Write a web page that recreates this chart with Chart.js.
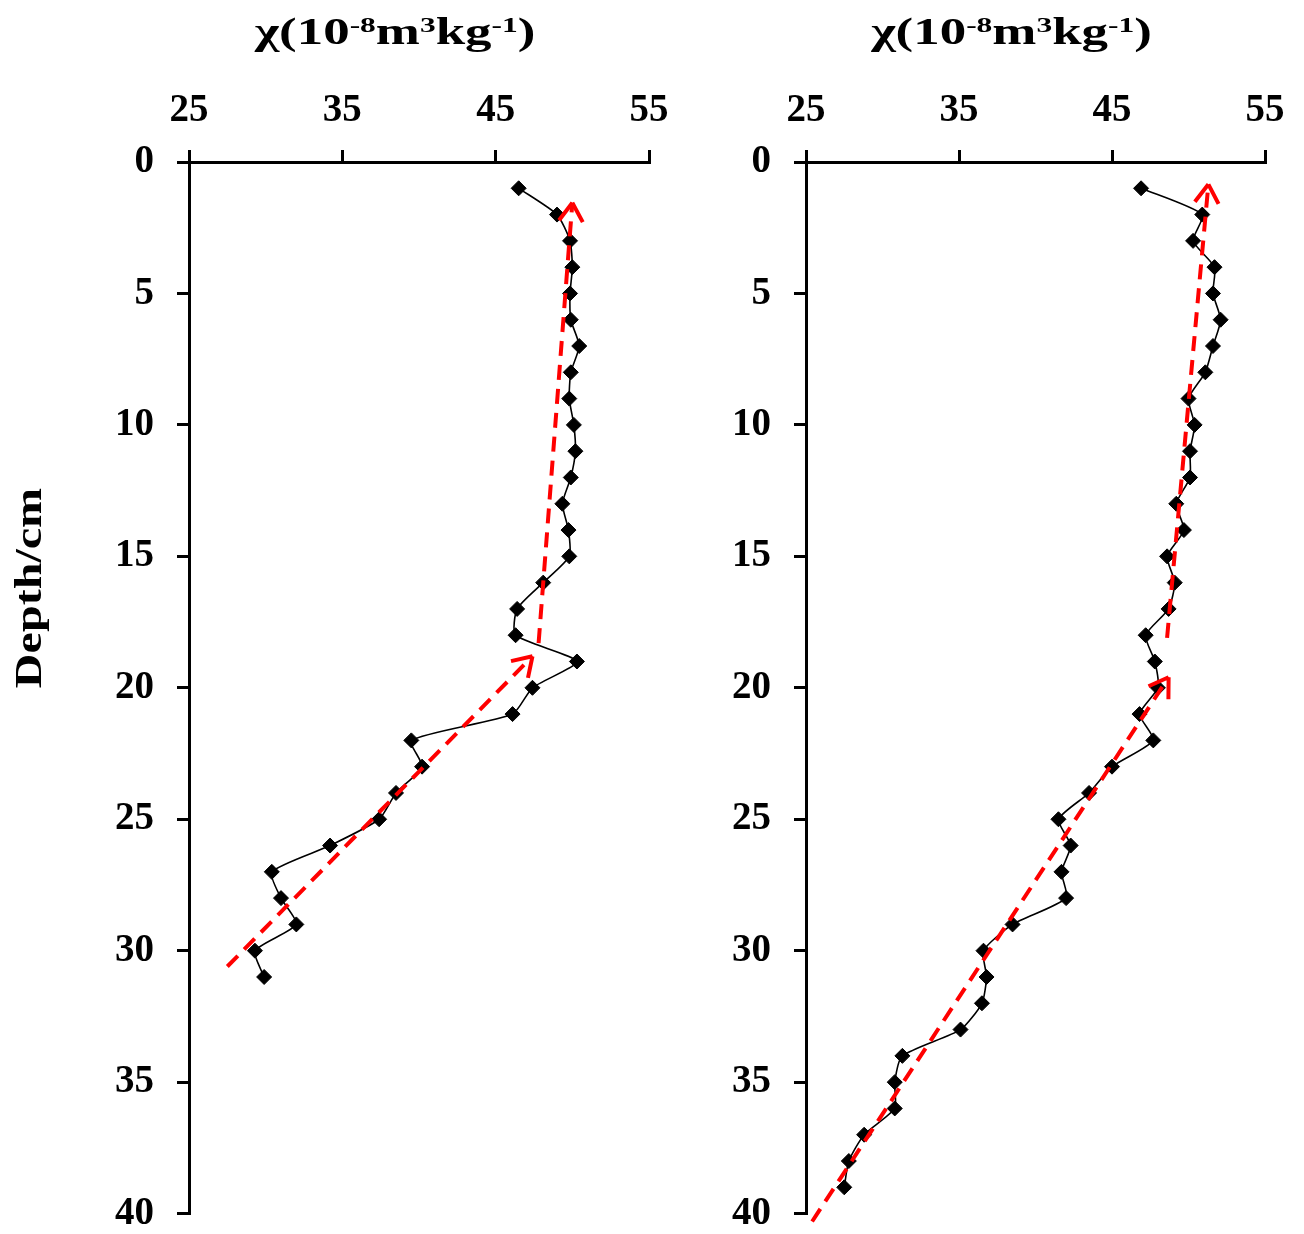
<!DOCTYPE html>
<html>
<head>
<meta charset="utf-8">
<script src="https://cdn.jsdelivr.net/npm/chart.js@4.4.1/dist/chart.umd.min.js"></script>
<style>
  html, body { margin: 0; padding: 0; background: #fff; overflow: hidden; }
  #wrap { position: relative; width: 1304px; height: 1234px; overflow: hidden; }
  canvas { position: absolute; top: 0; }
</style>
</head>
<body>
<div id="wrap">
  <canvas id="leftChart" width="700" height="1260" style="left:0"></canvas>
  <canvas id="rightChart" width="664" height="1260" style="left:640px"></canvas>
</div>
<script>
// sample depths (cm) and susceptibility, left core
const depthA = [1, 2, 3, 4, 5, 6, 7, 8, 9, 10, 11, 12, 13, 14, 15, 16, 17, 18, 19, 20,
  21, 22, 23, 24, 25, 26, 27, 28, 29, 30, 31];
const chiA = [46.5, 49.0, 49.85, 50.0, 49.85, 49.9, 50.45, 49.9, 49.8, 50.1, 50.2, 49.9, 49.35, 49.75, 49.8,
  48.1, 46.4, 46.3, 50.3, 47.4, 46.1, 39.5, 40.2, 38.5, 37.4, 34.2, 30.4, 31.0, 32.0, 29.3, 29.9];

// right core
const depthB = [1, 2, 3, 4, 5, 6, 7, 8, 9, 10, 11, 12, 13, 14, 15, 16, 17, 18, 19, 20,
  21, 22, 23, 24, 25, 26, 27, 28, 29, 30, 31, 32, 33, 34, 35, 36, 37, 38, 39];
const chiB = [46.9, 50.9, 50.3, 51.7, 51.6, 52.1, 51.6, 51.1, 50.0, 50.4, 50.1, 50.1, 49.2, 49.7, 48.6,
  49.1, 48.7, 47.2, 47.8, 48.0, 46.8, 47.7, 45.0, 43.5, 41.5, 42.3, 41.7, 42.0, 38.5, 36.6,
  36.8, 36.5, 35.1, 31.3, 30.8, 30.8, 28.8, 27.8, 27.5];

// red trend arrows (start -> tip)
const trendA1Chi = [27.5, 47.4], trendA1Depth = [30.6, 18.8];
const trendA2Chi = [47.8, 50.0], trendA2Depth = [18.3, 1.55];
const trendB1Chi = [25.4, 48.7], trendB1Depth = [40.3, 19.6];
const trendB2Chi = [48.6, 51.3], trendB2Depth = [18.1, 0.85];

const xTicks = [25, 35, 45, 55];
const yTicks = [0, 5, 10, 15, 20, 25, 30, 35, 40];

const SERIF = '"Liberation Serif", "Times New Roman", serif';
const toPts = (xs, ys) => xs.map((v, i) => ({ x: v, y: ys[i] }));

// chi(10^-8 m^3 kg^-1) title with superscripts, plus the depth label
const titleParts = [['χ(10', 0], ['-8', 1], ['m', 0], ['3', 1], ['kg', 0], ['-1', 1], [')', 0]];
const axisTitles = {
  id: 'axisTitles',
  afterDraw(chart, args, opts) {
    const ctx = chart.ctx, area = chart.chartArea;
    const big = 'bold 37px ' + SERIF, small = 'bold 22px ' + SERIF;
    ctx.save();
    ctx.fillStyle = '#000';
    let w = 0;
    titleParts.forEach(([t, sup]) => { ctx.font = sup ? small : big; w += ctx.measureText(t).width; });
    const stretch = 1.43;
    ctx.translate((area.left + area.right) / 2 - 24 - w * stretch / 2, 44);
    ctx.scale(stretch, 1);
    let x = 0;
    titleParts.forEach(([t, sup]) => {
      ctx.font = sup ? small : big;
      ctx.fillText(t, x, sup ? -12 : 0);
      x += ctx.measureText(t).width;
    });
    ctx.restore();
    if (opts.depthLabel) {
      ctx.save();
      ctx.fillStyle = '#000';
      ctx.translate(31, 588);
      ctx.rotate(-Math.PI / 2);
      ctx.scale(1.3, 1);
      ctx.font = big;
      ctx.textAlign = 'center';
      ctx.textBaseline = 'middle';
      ctx.fillText('Depth/cm', 0, 0);
      ctx.restore();
    }
  }
};

// open arrowhead at the last point of each trend dataset
const arrowHeads = {
  id: 'arrowHeads',
  afterDatasetsDraw(chart) {
    const ctx = chart.ctx;
    chart.data.datasets.forEach((ds, i) => {
      if (!ds.arrow) return;
      const pts = chart.getDatasetMeta(i).data;
      const a = pts[pts.length - 2], b = pts[pts.length - 1];
      const ang = Math.atan2(b.y - a.y, b.x - a.x);
      ctx.save();
      ctx.strokeStyle = '#FF0000';
      ctx.lineWidth = 4;
      ctx.beginPath();
      [Math.PI / 5.5, -Math.PI / 5.5].forEach(d => {
        ctx.moveTo(b.x, b.y);
        ctx.lineTo(b.x - 22 * Math.cos(ang + d), b.y - 22 * Math.sin(ang + d));
      });
      ctx.stroke();
      ctx.restore();
    });
  }
};

function trend(xs, ys) {
  return {
    data: toPts(xs, ys), arrow: true, order: 0, showLine: true, tension: 0,
    borderColor: '#FF0000', borderWidth: 4, borderDash: [15, 9], pointRadius: 0, clip: false
  };
}

function makeChart(id, depth, chi, trends, yWidth, padRight, depthLabel) {
  const tickFont = { family: SERIF, size: 39, weight: 'bold' };
  const axisGrid = { drawOnChartArea: false, drawTicks: true, tickLength: 12, color: '#000', lineWidth: 3 };
  return new Chart(document.getElementById(id), {
    type: 'scatter',
    data: {
      datasets: [
        ...trends,
        {
          data: toPts(chi, depth), order: 1, showLine: true, tension: 0.2,
          borderColor: '#000', borderWidth: 1.6,
          pointStyle: 'rectRot', pointRadius: 7.5, pointBackgroundColor: '#000', pointBorderColor: '#000', pointBorderWidth: 1
        }
      ]
    },
    options: {
      responsive: false, animation: false, devicePixelRatio: 1,
      layout: { padding: { left: 0, top: 0, right: padRight, bottom: 1260 - 1216 } },
      plugins: { legend: { display: false }, tooltip: { enabled: false }, axisTitles: { depthLabel } },
      scales: {
        x: {
          type: 'linear', position: 'top', min: 25, max: 55,
          afterBuildTicks: s => { s.ticks = xTicks.map(v => ({ value: v })); },
          afterFit: s => { s.height = 162; },
          ticks: { font: tickFont, color: '#000', padding: 16, maxRotation: 0 },
          grid: axisGrid,
          border: { display: true, color: '#000', width: 3 }
        },
        y: {
          type: 'linear', reverse: true, min: 0, max: 40,
          afterBuildTicks: s => { s.ticks = yTicks.map(v => ({ value: v })); },
          afterFit: s => { s.width = yWidth; },
          ticks: { font: tickFont, color: '#000', padding: 23 },
          grid: axisGrid,
          border: { display: true, color: '#000', width: 3 }
        }
      }
    },
    plugins: [axisTitles, arrowHeads]
  });
}

makeChart('leftChart', depthA, chiA,
  [trend(trendA1Chi, trendA1Depth), trend(trendA2Chi, trendA2Depth)], 189, 700 - 649, true);
makeChart('rightChart', depthB, chiB,
  [trend(trendB1Chi, trendB1Depth), trend(trendB2Chi, trendB2Depth)], 806 - 640, 664 - (1265 - 640), false);
</script>
</body>
</html>
